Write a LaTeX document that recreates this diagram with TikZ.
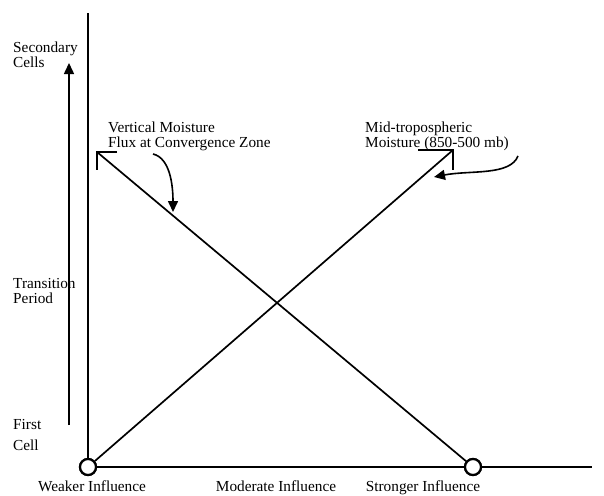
\documentclass[tikz,border=0pt]{standalone}
\usepackage{fontspec}
\setmainfont{Liberation Serif}
\usetikzlibrary{arrows.meta}
\begin{document}
\begin{tikzpicture}[x=1pt,y=-1pt,
  lbl/.style={inner sep=0pt,align=left,font=\fontsize{15.3}{15}\selectfont},
  axisline/.style={line width=1.5pt},
  diag/.style={line width=1.7pt},
  pivot/.style={circle,draw,fill=white,line width=2.2pt,minimum size=16pt,inner sep=0pt},
  curvearrow/.style={line width=1.6pt,-{Triangle[length=11pt,width=10pt]}}]
\useasboundingbox (0,0) rectangle (604,495);
% axes
\coordinate (ytop) at (88,13);
\coordinate (xend) at (592,467);
\node[pivot] (wk) at (88,467) {};
\node[pivot] (st) at (473,467) {};
\draw[axisline] (wk) -- (ytop);
\draw[axisline] (wk) -- (st);
\draw[axisline] (st) -- (xend);
% time arrow
\coordinate (tbot) at (69,425);
\coordinate (ttop) at (69,63);
\draw[line width=1.5pt,-{Triangle[length=11pt,width=10pt]}] (tbot) -- (ttop);
% brackets and diagonals
\coordinate (b1) at (97,152);
\coordinate (b1h) at (117,152);
\coordinate (b1v) at (97,170);
\coordinate (b2) at (453,150);
\coordinate (b2h) at (418,150);
\coordinate (b2v) at (453,170);
\draw[axisline] (b1h) -- (b1) -- (b1v);
\draw[axisline] (b2h) -- (b2) -- (b2v);
\draw[diag] (b1) -- (st);
\draw[diag] (wk) -- (b2);
\node[pivot] at (wk) {};
\node[pivot] at (st) {};
% labels
\node[lbl,anchor=north west] (sec) at (13,42) {Secondary\\Cells};
\node[lbl,anchor=north west] (tra) at (13,278.5) {Transition\\Period};
\node[lbl,anchor=north west] (fir) at (13,419) {First};
\node[lbl,anchor=north west] (cel) at (13,440) {Cell};
\node[lbl,anchor=north west] (vmf) at (108,122) {Vertical Moisture\\Flux at Convergence Zone};
\node[lbl,anchor=north west] (mtm) at (365,121.5) {Mid-tropospheric\\Moisture (850-500 mb)};
\node[lbl,anchor=north] (weak) at (92,481) {Weaker Influence};
\node[lbl,anchor=north] (mod) at (276,481) {Moderate Influence};
\node[lbl,anchor=north] (str) at (423,481) {Stronger Influence};
% curved pointers
\coordinate (p1s) at (153,154);
\coordinate (p1e) at (173,212);
\coordinate (p2s) at (518,156);
\coordinate (p2e) at (434,177);
\draw[curvearrow] (p1s) .. controls (170,158) and (173,185) .. (p1e);
\draw[curvearrow] (p2s) .. controls (510,176) and (470,170) .. (p2e);
\end{tikzpicture}
\end{document}
